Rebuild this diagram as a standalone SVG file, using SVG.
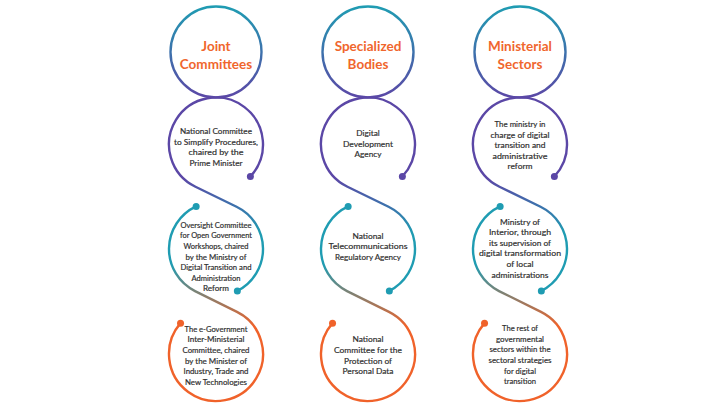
<svg xmlns="http://www.w3.org/2000/svg" width="720" height="405" viewBox="0 0 720 405">
<defs>
<linearGradient id="gTop" gradientUnits="userSpaceOnUse" x1="0" y1="6" x2="0" y2="98">
<stop offset="0" stop-color="#1F9CB2"/><stop offset="1" stop-color="#5B47A6"/>
</linearGradient>
<linearGradient id="gP1" gradientUnits="userSpaceOnUse" x1="0" y1="97" x2="0" y2="291">
<stop offset="0" stop-color="#5B47A6"/><stop offset="0.42" stop-color="#5B47A6"/><stop offset="0.7" stop-color="#1F9CB2"/><stop offset="1" stop-color="#1F9CB2"/>
</linearGradient>
<linearGradient id="gP2" gradientUnits="userSpaceOnUse" x1="0" y1="206" x2="0" y2="401">
<stop offset="0" stop-color="#1F9CB2"/><stop offset="0.3" stop-color="#1F9CB2"/><stop offset="0.62" stop-color="#F0622A"/><stop offset="1" stop-color="#F0622A"/>
</linearGradient>
<style>
.ring{fill:none;stroke:url(#gTop);stroke-width:2.4}
.p1{fill:none;stroke:url(#gP1);stroke-width:2.4;stroke-linecap:round}
.p2{fill:none;stroke:url(#gP2);stroke-width:2.4;stroke-linecap:round}
.dp{fill:#5B47A6}.dt{fill:#1F9CB2}.do{fill:#F0622A}
.title{font-family:Lato,"Open Sans",sans-serif;font-weight:bold;font-size:13.5px;fill:#F0662D;text-anchor:middle}
.body{font-family:Lato,"Open Sans",sans-serif;font-size:8.4px;fill:#2E2E2E;stroke:#2E2E2E;stroke-width:0.18;text-anchor:middle}
.sm{font-size:8px}
</style>
</defs>
<rect width="720" height="405" fill="#ffffff"/>
<g id="connectors">
<path class="p1" d="M250.37,176.55 A47,47 0 1 0 195.47,186.78 L236.53,206.72 A47,47 0 0 1 237.34,290.88"/>
<path class="p2" d="M196.14,206.4 A47,47 0 0 0 195.03,291.06 L236.97,311.94 A47,47 0 1 1 180.53,323.16"/>
<path class="p1" d="M402.37,176.55 A47,47 0 1 0 347.47,186.78 L388.53,206.72 A47,47 0 0 1 389.34,290.88"/>
<path class="p2" d="M348.14,206.4 A47,47 0 0 0 347.03,291.06 L388.97,311.94 A47,47 0 1 1 332.53,323.16"/>
<path class="p1" d="M554.37,176.55 A47,47 0 1 0 499.47,186.78 L540.53,206.72 A47,47 0 0 1 541.34,290.88"/>
<path class="p2" d="M500.14,206.4 A47,47 0 0 0 499.03,291.06 L540.97,311.94 A47,47 0 1 1 484.53,323.16"/>
<circle class="dp" cx="250.37" cy="176.55" r="3.5"/><circle class="dt" cx="237.34" cy="290.88" r="3.5"/><circle class="dt" cx="196.14" cy="206.4" r="3.5"/><circle class="do" cx="180.53" cy="323.16" r="3.5"/>
<circle class="dp" cx="402.37" cy="176.55" r="3.5"/><circle class="dt" cx="389.34" cy="290.88" r="3.5"/><circle class="dt" cx="348.14" cy="206.4" r="3.5"/><circle class="do" cx="332.53" cy="323.16" r="3.5"/>
<circle class="dp" cx="554.37" cy="176.55" r="3.5"/><circle class="dt" cx="541.34" cy="290.88" r="3.5"/><circle class="dt" cx="500.14" cy="206.4" r="3.5"/><circle class="do" cx="484.53" cy="323.16" r="3.5"/>
</g>
<g id="joint-committees">
<circle class="ring" cx="216" cy="52" r="45.5"/>
<text class="title" x="216" y="50.5">Joint</text>
<text class="title" x="216" y="68.5">Committees</text>
</g>
<g id="jc-national-committee">
<text class="body" x="216" y="134.2" textLength="72" lengthAdjust="spacingAndGlyphs">National Committee</text>
<text class="body" x="216" y="144.7" textLength="84" lengthAdjust="spacingAndGlyphs">to Simplify Procedures,</text>
<text class="body" x="216" y="155.2" textLength="55" lengthAdjust="spacingAndGlyphs">chaired by the</text>
<text class="body" x="216" y="165.7" textLength="53" lengthAdjust="spacingAndGlyphs">Prime Minister</text>
</g>
<g id="jc-oversight-committee">
<text class="body sm" x="216" y="227.7" textLength="71" lengthAdjust="spacingAndGlyphs">Oversight Committee</text>
<text class="body sm" x="216" y="238.3" textLength="72" lengthAdjust="spacingAndGlyphs">for Open Government</text>
<text class="body sm" x="216" y="248.9" textLength="65" lengthAdjust="spacingAndGlyphs">Workshops, chaired</text>
<text class="body sm" x="216" y="259.5" textLength="61" lengthAdjust="spacingAndGlyphs">by the Ministry of</text>
<text class="body sm" x="216" y="270.1" textLength="71" lengthAdjust="spacingAndGlyphs">Digital Transition and</text>
<text class="body sm" x="216" y="280.7" textLength="49" lengthAdjust="spacingAndGlyphs">Administration</text>
<text class="body sm" x="216" y="291.3" textLength="26" lengthAdjust="spacingAndGlyphs">Reform</text>
</g>
<g id="jc-egov-committee">
<text class="body sm" x="216" y="331.7" textLength="63" lengthAdjust="spacingAndGlyphs">The e-Government</text>
<text class="body sm" x="216" y="342.4" textLength="57" lengthAdjust="spacingAndGlyphs">Inter-Ministerial</text>
<text class="body sm" x="216" y="353.1" textLength="67" lengthAdjust="spacingAndGlyphs">Committee, chaired</text>
<text class="body sm" x="216" y="363.7" textLength="62" lengthAdjust="spacingAndGlyphs">by the Minister of</text>
<text class="body sm" x="216" y="374.4" textLength="65" lengthAdjust="spacingAndGlyphs">Industry, Trade and</text>
<text class="body sm" x="216" y="385.1" textLength="62" lengthAdjust="spacingAndGlyphs">New Technologies</text>
</g>
<g id="specialized-bodies">
<circle class="ring" cx="368" cy="52" r="45.5"/>
<text class="title" x="368" y="50.5">Specialized</text>
<text class="title" x="368" y="68.5">Bodies</text>
</g>
<g id="sb-digital-development">
<text class="body" x="368" y="135.9" textLength="23.5" lengthAdjust="spacingAndGlyphs">Digital</text>
<text class="body" x="368" y="146.5" textLength="50" lengthAdjust="spacingAndGlyphs">Development</text>
<text class="body" x="368" y="157.1" textLength="27" lengthAdjust="spacingAndGlyphs">Agency</text>
</g>
<g id="sb-telecom-agency">
<text class="body" x="368" y="238.7" textLength="31" lengthAdjust="spacingAndGlyphs">National</text>
<text class="body" x="368" y="249.3" textLength="79" lengthAdjust="spacingAndGlyphs">Telecommunications</text>
<text class="body" x="368" y="259.9" textLength="66" lengthAdjust="spacingAndGlyphs">Regulatory Agency</text>
</g>
<g id="sb-data-protection">
<text class="body" x="368" y="342.2" textLength="31" lengthAdjust="spacingAndGlyphs">National</text>
<text class="body" x="368" y="352.9" textLength="68" lengthAdjust="spacingAndGlyphs">Committee for the</text>
<text class="body" x="368" y="363.6" textLength="48" lengthAdjust="spacingAndGlyphs">Protection of</text>
<text class="body" x="368" y="374.3" textLength="51" lengthAdjust="spacingAndGlyphs">Personal Data</text>
</g>
<g id="ministerial-sectors">
<circle class="ring" cx="520" cy="52" r="45.5"/>
<text class="title" x="520" y="50.5">Ministerial</text>
<text class="title" x="520" y="68.5">Sectors</text>
</g>
<g id="ms-digital-ministry">
<text class="body" x="520" y="127" textLength="51" lengthAdjust="spacingAndGlyphs">The ministry in</text>
<text class="body" x="520" y="137.6" textLength="59" lengthAdjust="spacingAndGlyphs">charge of digital</text>
<text class="body" x="520" y="148.2" textLength="51" lengthAdjust="spacingAndGlyphs">transition and</text>
<text class="body" x="520" y="158.8" textLength="55" lengthAdjust="spacingAndGlyphs">administrative</text>
<text class="body" x="520" y="169.4" textLength="25" lengthAdjust="spacingAndGlyphs">reform</text>
</g>
<g id="ms-interior">
<text class="body" x="520" y="224.5" textLength="40" lengthAdjust="spacingAndGlyphs">Ministry of</text>
<text class="body" x="520" y="235.1" textLength="62" lengthAdjust="spacingAndGlyphs">Interior, through</text>
<text class="body" x="520" y="245.7" textLength="62" lengthAdjust="spacingAndGlyphs">its supervision of</text>
<text class="body" x="520" y="256.3" textLength="82" lengthAdjust="spacingAndGlyphs">digital transformation</text>
<text class="body" x="520" y="266.9" textLength="27" lengthAdjust="spacingAndGlyphs">of local</text>
<text class="body" x="520" y="277.5" textLength="57" lengthAdjust="spacingAndGlyphs">administrations</text>
</g>
<g id="ms-other-sectors">
<text class="body" x="520" y="331.2" textLength="36" lengthAdjust="spacingAndGlyphs">The rest of</text>
<text class="body" x="520" y="341.8" textLength="48" lengthAdjust="spacingAndGlyphs">governmental</text>
<text class="body" x="520" y="352.4" textLength="61" lengthAdjust="spacingAndGlyphs">sectors within the</text>
<text class="body" x="520" y="363" textLength="63" lengthAdjust="spacingAndGlyphs">sectoral strategies</text>
<text class="body" x="520" y="373.6" textLength="32" lengthAdjust="spacingAndGlyphs">for digital</text>
<text class="body" x="520" y="384.2" textLength="32" lengthAdjust="spacingAndGlyphs">transition</text>
</g>
</svg>
